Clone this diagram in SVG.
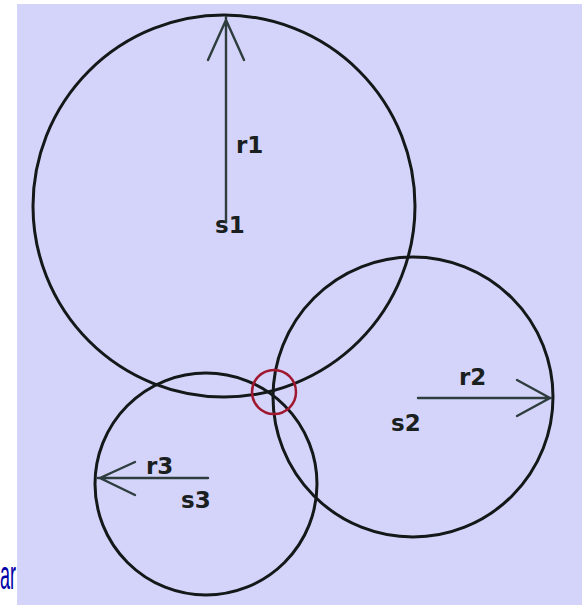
<svg xmlns="http://www.w3.org/2000/svg" width="582" height="605" viewBox="0 0 582 605">
<style>
.c{fill:none;stroke:#141818;stroke-width:3}
.a{fill:none;stroke:#2e3e3e;stroke-width:2.4;stroke-linecap:round}
.l{font-family:"DejaVu Sans",sans-serif;font-weight:bold;font-size:23px;fill:#1a2020}
</style>
<rect width="582" height="605" fill="#ffffff"/>
<text x="0" y="589" font-family="Liberation Sans, sans-serif" font-size="40" fill="#0000a8" textLength="16" lengthAdjust="spacingAndGlyphs">ar</text>
<rect x="17" y="4" width="565" height="601" fill="#d4d4fa"/>
<g id="s1">
<circle class="c" cx="224" cy="206" r="191"/>
<text class="l" x="215" y="233">s1</text>
</g>
<g id="s2">
<circle class="c" cx="413" cy="397" r="140"/>
<text class="l" x="391" y="431">s2</text>
</g>
<g id="s3">
<circle class="c" cx="206" cy="484" r="111"/>
<text class="l" x="181" y="508">s3</text>
</g>
<g id="intersection">
<circle cx="274" cy="392" r="22" fill="none" stroke="#a01830" stroke-width="2.5"/>
</g>
<g id="connectors">
<g id="r1">
<path class="a" d="M226,222 V17 M208,60 L226,20 L244,60"/>
<text class="l" x="236" y="153">r1</text>
</g>
<g id="r2">
<path class="a" d="M418,398 H551 M517,380 L550,398 L517,416"/>
<text class="l" x="459" y="385">r2</text>
</g>
<g id="r3">
<path class="a" d="M208,478 H98 M135,462 L100,478 L135,495"/>
<text class="l" x="146" y="474">r3</text>
</g>
</g>
</svg>
